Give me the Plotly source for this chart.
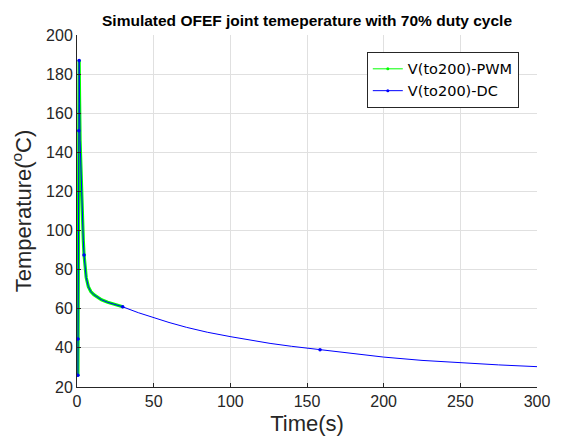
import plotly.graph_objects as go

# Junction temperature (°C) vs time (s), DC drive
t_dc = [0.6, 0.7, 1.2, 1.4, 1.7, 2.0, 2.5, 3.0, 3.5, 4.1, 4.6, 5.2, 6.0, 7.4, 9.0,
        11.0, 12.8, 16, 20, 24, 29.8, 40, 49.8, 60, 71.5, 85, 100.4, 112, 125.9,
        140, 151, 158.5, 175, 200, 225, 250, 275, 300]
T_dc = [26, 44.5, 151, 187, 165, 146, 132, 120.7, 107, 95, 87.5, 81, 76, 71.3, 68.8,
        67.2, 66.2, 64.6, 63.3, 62.3, 61, 58, 55.4, 53, 50.5, 48, 45.7, 44, 42.3,
        40.8, 39.8, 39, 37.5, 35.3, 33.6, 32.3, 31.3, 30.4]
dc_marker_idx = [0, 1, 2, 3, 10, 20, 31]

# PWM drive (70% duty cycle), simulated up to ~30 s
t_pwm = [0.6, 0.7, 1.2, 1.4, 1.7, 2.0, 2.5, 3.0, 3.5, 4.1, 4.6, 5.2, 6.0, 7.4, 9.0,
         11.0, 12.8, 16, 20, 24, 29.8]
T_pwm = [26, 44.5, 151, 187, 165, 146, 132, 120.7, 107, 95, 87.5, 81, 76, 71.3, 68.8,
         67.2, 66.2, 64.6, 63.3, 62.3, 61]
pwm_marker_idx = [0, 1, 2, 3, 10, 20]

GREEN = "#00ff00"
BLUE = "#0000ff"
FONT = "Liberation Sans, Arial, sans-serif"
INK = "#262626"

fig = go.Figure()

# PWM curve
fig.add_trace(go.Scatter(x=t_pwm, y=T_pwm, mode="lines",
                         line=dict(color=GREEN, width=3.2), showlegend=False))
fig.add_trace(go.Scatter(x=[t_pwm[i] for i in pwm_marker_idx],
                         y=[T_pwm[i] for i in pwm_marker_idx], mode="markers",
                         marker=dict(color=GREEN, size=3), showlegend=False))
# DC curve
fig.add_trace(go.Scatter(x=t_dc, y=T_dc, mode="lines",
                         line=dict(color=BLUE, width=1), showlegend=False))
fig.add_trace(go.Scatter(x=[t_dc[i] for i in dc_marker_idx],
                         y=[T_dc[i] for i in dc_marker_idx], mode="markers",
                         marker=dict(color=BLUE, size=3.5), showlegend=False))

# legend entries
fig.add_trace(go.Scatter(x=[None], y=[None], mode="lines+markers", name="V(to200)-PWM",
                         line=dict(color=GREEN, width=1), marker=dict(color=GREEN, size=3)))
fig.add_trace(go.Scatter(x=[None], y=[None], mode="lines+markers", name="V(to200)-DC",
                         line=dict(color=BLUE, width=1), marker=dict(color=BLUE, size=3)))

axis_common = dict(
    showgrid=True, gridcolor="#e0e0e0", gridwidth=1,
    showline=True, linecolor=INK, linewidth=1,
    ticks="inside", ticklen=4, tickcolor=INK,
    tickfont=dict(family=FONT, size=16, color=INK),
    zeroline=False, mirror=False,
)

fig.update_layout(
    width=562, height=446,
    margin=dict(l=77, r=25, t=35, b=59),
    paper_bgcolor="white", plot_bgcolor="white",
    title=dict(text="<b>Simulated OFEF joint temeperature with 70% duty cycle</b>",
               x=0.5463, xanchor="center", y=0.953, yanchor="middle",
               font=dict(family=FONT, size=15.5, color="black")),
    xaxis=dict(range=[0, 300], tickvals=[0, 50, 100, 150, 200, 250, 300],
               title=dict(text="Time(s)", font=dict(family=FONT, size=22, color=INK),
                          standoff=6),
               **axis_common),
    yaxis=dict(range=[20, 200], tickvals=list(range(20, 201, 20)),
               title=dict(text="Temperature(<sup>o</sup>C)",
                          font=dict(family=FONT, size=22, color=INK), standoff=8),
               **axis_common),
    legend=dict(x=0.63, y=0.952, xanchor="left", yanchor="top",
                bgcolor="white", bordercolor=INK, borderwidth=1,
                font=dict(family="DejaVu Sans, sans-serif", size=14.5, color="black"),
                tracegroupgap=0, itemwidth=30),
)

fig.write_html("out.html")
